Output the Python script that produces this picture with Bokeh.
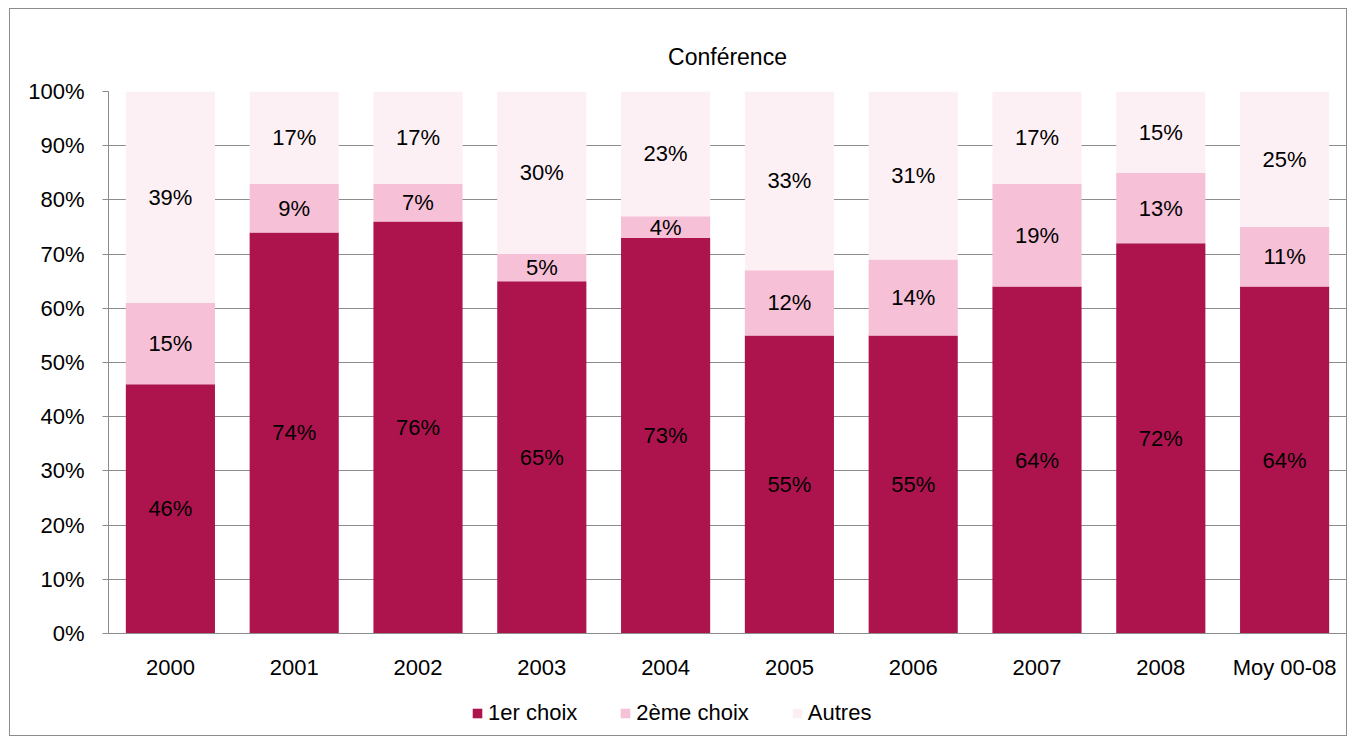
from bokeh.plotting import figure
from bokeh.layouts import column
from bokeh.models import ColumnDataSource, NumeralTickFormatter, Legend, LegendItem, FixedTicker
from bokeh.core.properties import value
from bokeh.embed import file_html
from bokeh.resources import INLINE

categories = ["2000", "2001", "2002", "2003", "2004", "2005", "2006", "2007", "2008", "Moy 00-08"]
premier_choix = [46, 74, 76, 65, 73, 55, 55, 64, 72, 64]
deuxieme_choix = [15, 9, 7, 5, 4, 12, 14, 19, 13, 11]
autres = [39, 17, 17, 30, 23, 33, 31, 17, 15, 25]
series_names = ["1er choix", "2ème choix", "Autres"]
colors = ["#AD144E", "#F6C0D7", "#FDF0F5"]

FONT = "Liberation Sans"
FS = "22px"

p1 = [v / 100 for v in premier_choix]
p2 = [v / 100 for v in deuxieme_choix]
p3 = [v / 100 for v in autres]

src = ColumnDataSource(dict(cat=categories, a=p1, b=p2, c=p3))

p = figure(x_range=categories, y_range=(0, 1), frame_width=1238, frame_height=542,
           output_backend="svg", toolbar_location=None,
           min_border_left=98, min_border_right=0, min_border_top=82, min_border_bottom=50)

p.vbar_stack(["a", "b", "c"], x="cat", width=0.72, color=colors, line_color=None, source=src)

# value labels
lx, ly, lt = [], [], []
for i, cat in enumerate(categories):
    base = 0
    for vals in (p1, p2, p3):
        v = vals[i]
        lx.append(cat)
        ly.append(base + v / 2)
        lt.append(f"{round(v * 100)}%")
        base += v
p.text(x=lx, y=ly, text=lt, text_align="center", text_baseline="middle",
       text_font=value(FONT), text_font_size=FS, text_color="black")

p.title.text = "Conférence"
p.title.align = "center"
p.title.text_font = FONT
p.title.text_font_size = "23px"
p.title.text_font_style = "normal"
p.title.text_color = "black"
p.title.standoff = 43

p.outline_line_color = None
p.xgrid.grid_line_color = None
p.ygrid.grid_line_color = "#8c8c8c"
p.ygrid.grid_line_width = 1

p.yaxis.ticker = FixedTicker(ticks=[i / 10 for i in range(11)])
p.yaxis.formatter = NumeralTickFormatter(format="0%")
p.yaxis.minor_tick_line_color = None
p.yaxis.major_tick_in = 0
p.yaxis.major_tick_out = 6
for ax in (p.xaxis, p.yaxis):
    ax.axis_line_color = "#8c8c8c"
    ax.major_tick_line_color = "#8c8c8c"
    ax.major_label_text_font = FONT
    ax.major_label_text_font_size = FS
    ax.major_label_text_color = "black"
p.xaxis.major_tick_line_color = None
p.xaxis.major_label_standoff = 15
p.yaxis.major_label_standoff = 18

# legend strip (bars of this strip lie outside its visible y range; only the legend shows)
leg = figure(x_range=categories, y_range=(10, 11), width=1336, height=52,
             output_backend="svg", toolbar_location=None,
             x_axis_type=None, y_axis_type=None,
             min_border_left=0, min_border_right=0, min_border_top=0, min_border_bottom=0)
leg.outline_line_color = None
leg.xgrid.grid_line_color = None
leg.ygrid.grid_line_color = None
leg_renderers = leg.vbar_stack(["a", "b", "c"], x="cat", width=0.72, color=colors,
                               line_color=None, source=src)
legend = Legend(items=[LegendItem(label=n, renderers=[r]) for n, r in zip(series_names, leg_renderers)],
                orientation="horizontal", location=(363, 9),
                label_text_font=FONT, label_text_font_size=FS, label_text_color="black",
                glyph_width=12, glyph_height=12, spacing=42, label_standoff=5,
                border_line_color=None, background_fill_alpha=0, margin=0, padding=2)
leg.add_layout(legend)

layout = column(p, leg, spacing=0)
layout.margin = (8, 0, 0, 9)
layout.styles = {"border": "1px solid #8c8c8c"}

open("out.html", "w").write(file_html(layout, INLINE))
